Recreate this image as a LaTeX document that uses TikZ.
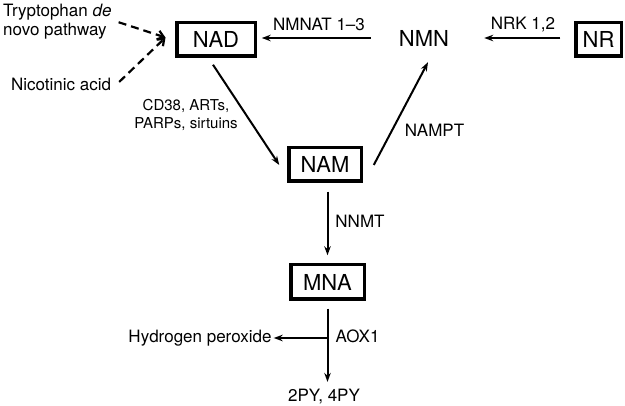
\documentclass[tikz,border=0pt]{standalone}
\usepackage{fontspec}
\setmainfont{TeX Gyre Heros}
\usetikzlibrary{arrows.meta}
\tikzset{
mol/.style={draw,line width=3.5pt,inner sep=0pt,minimum height=33.5pt,font=\fontsize{22}{25}\selectfont},
lbl/.style={inner sep=0pt,font=\fontsize{17}{19}\selectfont},
rxn/.style={line width=2pt,-{Stealth[length=9pt,width=6.5pt]}},
feed/.style={line width=2.2pt,dash pattern=on 8pt off 5pt,-{Straight Barb[length=6pt,width=9pt]}}
}
\begin{document}
\begin{tikzpicture}[x=1pt,y=-1pt]
\useasboundingbox (0,0) rectangle (625,406);
\node[mol,minimum width=78.5pt] (nad) at (216,39.5) {NAD};
\node[inner sep=0pt,font=\fontsize{22}{25}\selectfont] (nmn) at (424,38) {NMN};
\node[mol,minimum width=45.5pt] (nr) at (598.5,39.5) {NR};
\node[mol,minimum width=72.5pt] (nam) at (325,164.5) {NAM};
\node[mol,minimum width=73.5pt,minimum height=34.5pt] (mna) at (327.5,282) {MNA};
%\draw (0,0) grid[step=50] (625,406);
\node[lbl,align=left,anchor=north west] (trp) at (3,4) {Tryptophan \textit{de}\\novo pathway};
\node[lbl,anchor=base] (nic) at (61,91) {Nicotinic acid};
\node[lbl,anchor=base] (h2o) at (200,343) {Hydrogen peroxide};
\node[lbl,anchor=base] (py) at (324,402) {2PY, 4PY};

\node[lbl,anchor=base] (nmnat) at (319,31) {NMNAT 1--3};
\node[lbl,anchor=base] (nrk) at (523,30) {NRK 1,2};
\node[lbl,anchor=base] (nampt) at (434.5,137) {NAMPT};
\node[lbl,font=\fontsize{15}{18}\selectfont,align=center,anchor=north] (cd) at (186,99) {CD38, ARTs,\\PARPs, sirtuins};
\node[lbl,anchor=base] (nnmt) at (360,228) {NNMT};
\node[lbl,anchor=base] (aox) at (357.5,343) {AOX1};

\coordinate (nadin) at ([shift={(-9.5,-2)}]nad.west);
\coordinate (br) at (mna.south |- 0,338);
\draw[feed] ([shift={(7,0.5)}]trp.east) -- (nadin);
\draw[feed] ([shift={(8,-3)}]nic.east) -- (nadin);
\draw[rxn,shorten <=28pt,shorten >=4.75pt] (nmn.west) -- (nmn.west -| nad.east);
\draw[rxn,shorten <=13.75pt,shorten >=35pt] (nr.west |- nmn.west) -- (nmn.east);
\draw[rxn] ([shift={(-3,6.75)}]nad.south) -- ([shift={(-7.75,0.5)}]nam.west);
\draw[rxn] ([shift={(10.75,0.5)}]nam.east) -- ([shift={(4,16)}]nmn.south);
\draw[rxn,shorten <=8.75pt,shorten >=7.75pt] (mna.north |- nam.south) -- (mna.north);
\draw[rxn,shorten <=7.75pt,shorten >=7.5pt] (mna.south) -- (mna.south |- py.north);
\draw[rxn,shorten >=2pt] (br) -- (h2o.east |- br);
\end{tikzpicture}
\end{document}
